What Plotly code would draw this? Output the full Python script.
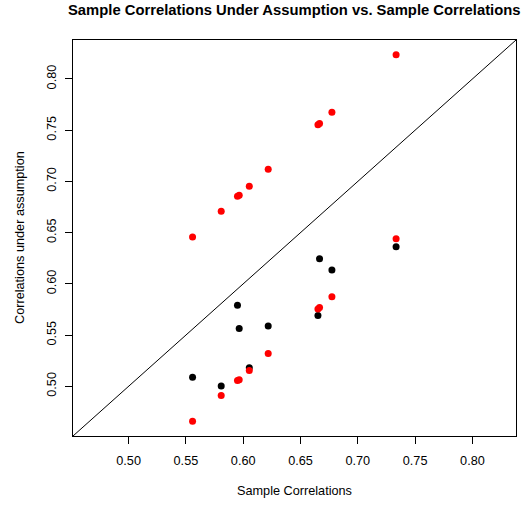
import plotly.graph_objects as go

sample_corr = [0.5558, 0.5808, 0.5950, 0.5965, 0.6053, 0.6218, 0.6652, 0.6666, 0.6774, 0.7334]
assumed_corr = [0.5088, 0.5004, 0.5790, 0.5563, 0.5180, 0.5589, 0.5690, 0.6246, 0.6136, 0.6363]
upper_corr = [0.6458, 0.6708, 0.6854, 0.6864, 0.6952, 0.7118, 0.7554, 0.7564, 0.7674, 0.8237]
lower_corr = [0.4658, 0.4909, 0.5056, 0.5063, 0.5153, 0.5319, 0.5755, 0.5768, 0.5875, 0.6441]
tick_vals = [0.50, 0.55, 0.60, 0.65, 0.70, 0.75, 0.80]
tick_text = ["0.50", "0.55", "0.60", "0.65", "0.70", "0.75", "0.80"]

all_vals = sample_corr + assumed_corr + upper_corr + lower_corr
lo, hi = min(all_vals), max(all_vals)
pad = 0.04 * (hi - lo)
rng = [lo - pad, hi + pad]

font = "Liberation Sans, Arial, Helvetica, sans-serif"

fig = go.Figure()
fig.add_trace(go.Scatter(x=rng, y=rng, mode="lines", line=dict(color="black", width=1),
                         hoverinfo="skip", showlegend=False))
fig.add_trace(go.Scatter(x=sample_corr, y=assumed_corr, mode="markers",
                         marker=dict(color="black", size=7), showlegend=False))
fig.add_trace(go.Scatter(x=sample_corr, y=upper_corr, mode="markers",
                         marker=dict(color="#FF0000", size=7), showlegend=False))
fig.add_trace(go.Scatter(x=sample_corr, y=lower_corr, mode="markers",
                         marker=dict(color="#FF0000", size=7), showlegend=False))

axis_common = dict(range=rng, tickvals=tick_vals, ticktext=tick_text, ticks="outside",
                   ticklen=7, tickcolor="black", tickwidth=1, showline=True,
                   linecolor="black", linewidth=1, mirror=True, showgrid=False,
                   zeroline=False, tickfont=dict(family=font, size=12.7, color="black"))

fig.update_xaxes(**axis_common, ticklabelstandoff=6)
fig.update_yaxes(**axis_common, tickangle=-90, ticklabelstandoff=4)

fig.update_layout(
    width=524, height=506,
    margin=dict(l=73, r=8, t=40, b=70),
    paper_bgcolor="white", plot_bgcolor="white",
    font=dict(family=font, color="black"),
    annotations=[
        dict(text="<b>Sample Correlations Under Assumption vs. Sample Correlations</b>",
             xref="paper", yref="paper", x=0.5, y=(436 - 10) / 396, xanchor="center",
             yanchor="middle", showarrow=False, font=dict(size=14.8, family=font, color="black")),
        dict(text="Sample Correlations", xref="paper", yref="paper", x=0.5,
             y=(436 - 491) / 396, xanchor="center", yanchor="middle", showarrow=False,
             font=dict(size=12.7, family=font, color="black")),
        dict(text="Correlations under assumption", xref="paper", yref="paper",
             x=(20 - 73) / 443, y=0.5, xanchor="center", yanchor="middle", textangle=-90,
             showarrow=False, font=dict(size=12.7, family=font, color="black")),
    ],
)

fig.write_html("out.html")
